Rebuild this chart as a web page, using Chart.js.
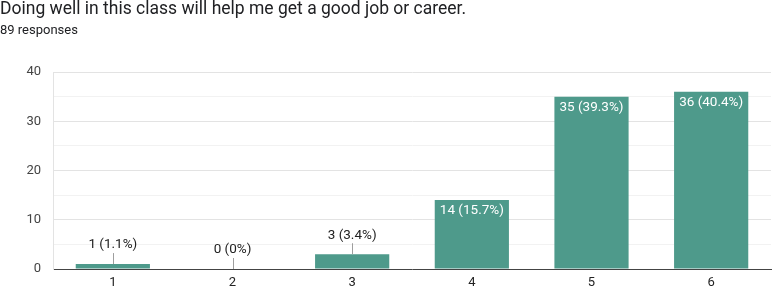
<!DOCTYPE html>
<html>
<head>
<meta charset="utf-8">
<script src="https://cdn.jsdelivr.net/npm/chart.js@4"></script>
<style>
  body { margin: 0; background: #fff; font-family: Roboto, Arial, sans-serif; }
  #wrap { position: relative; width: 773px; height: 289px; }
  #title { position: absolute; left: 0; top: -2px; font-size: 17.5px; color: #202124; white-space: nowrap; line-height: 20px; }
  #sub { position: absolute; left: 0; top: 22px; font-size: 13px; color: #202124; line-height: 16px; }
  canvas { position: absolute; left: 0; top: 0; }
</style>
</head>
<body>
<div id="wrap">
  <canvas id="c" width="773" height="289"></canvas>
  <div id="title">Doing well in this class will help me get a good job or career.</div>
  <div id="sub">89 responses</div>
</div>
<script>
var categories = ["1", "2", "3", "4", "5", "6"];
var counts = [1, 0, 3, 14, 35, 36];
var percents = ["1.1%", "0%", "3.4%", "15.7%", "39.3%", "40.4%"];
var yTicks = [0, 10, 20, 30, 40];

var barLabels = {
  id: 'barLabels',
  afterDatasetsDraw: function(chart) {
    var ctx = chart.ctx;
    var meta = chart.getDatasetMeta(0);
    var zeroY = chart.scales.y.getPixelForValue(0);
    ctx.save();
    ctx.font = '13.5px Roboto, Arial, sans-serif';
    ctx.textAlign = 'center';
    meta.data.forEach(function(bar, i) {
      var text = counts[i] + ' (' + percents[i] + ')';
      var h = zeroY - bar.y;
      if (h > 20) {
        ctx.fillStyle = '#ffffff';
        ctx.textBaseline = 'top';
        ctx.fillText(text, bar.x, bar.y + 4);
      } else {
        ctx.strokeStyle = '#9e9e9e';
        ctx.lineWidth = 1;
        ctx.beginPath();
        ctx.moveTo(Math.round(bar.x) + 0.5, bar.y);
        ctx.lineTo(Math.round(bar.x) + 0.5, bar.y - 11);
        ctx.stroke();
        ctx.fillStyle = '#222222';
        ctx.textBaseline = 'middle';
        ctx.fillText(text, bar.x, bar.y - 19);
      }
    });
    ctx.restore();
  }
};

new Chart(document.getElementById('c').getContext('2d'), {
  type: 'bar',
  data: {
    labels: categories,
    datasets: [{
      data: counts,
      backgroundColor: '#4e9a8b',
      barPercentage: 0.62,
      categoryPercentage: 1.0
    }]
  },
  options: {
    responsive: false,
    animation: false,
    layout: { padding: { top: 72, right: 2, left: 0, bottom: 0 } },
    plugins: {
      legend: { display: false },
      tooltip: { enabled: false }
    },
    scales: {
      x: {
        grid: { display: false, drawTicks: false },
        border: { color: '#444444' },
        ticks: { color: '#222222', font: { size: 13, family: 'Roboto' }, padding: 6 },
        afterFit: function(scale) { scale.height = 20; }
      },
      y: {
        min: 0,
        max: 40,
        ticks: {
          stepSize: 5,
          color: '#444444',
          font: { size: 13, family: 'Roboto' },
          padding: 12,
          callback: function(v) { return yTicks.indexOf(v) >= 0 ? v : ''; }
        },
        grid: {
          drawTicks: false,
          color: function(c) { return c.tick.value % 10 === 0 ? '#e3e3e3' : '#f2f2f2'; }
        },
        border: { display: true, color: '#e3e3e3' },
        afterFit: function(scale) { scale.width = 53; }
      }
    }
  },
  plugins: [barLabels]
});
</script>
</body>
</html>
